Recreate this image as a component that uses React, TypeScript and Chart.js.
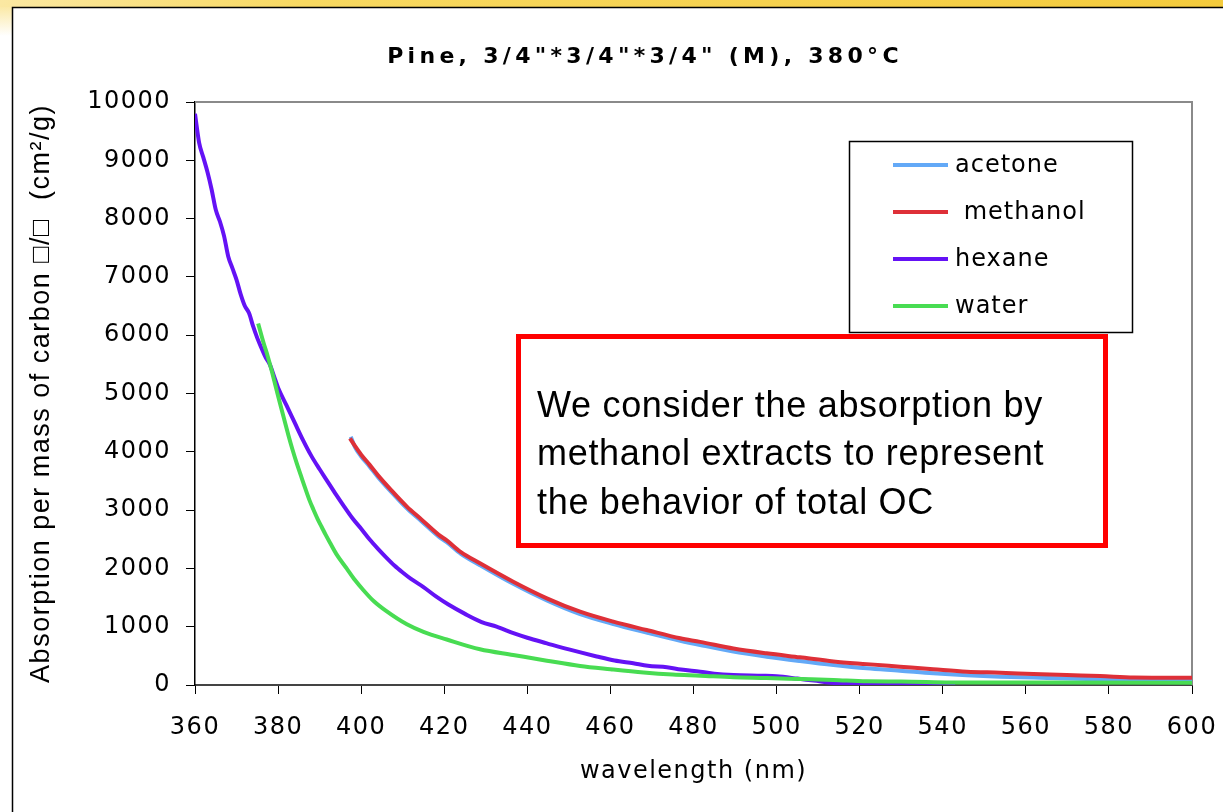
import { useEffect, useRef } from 'react';
import { Chart, registerables } from 'chart.js';

Chart.register(...registerables);

// Absorption per mass of carbon (cm²/g) against wavelength (nm), one pair of arrays per extract.
const acetoneNm = [397.5, 398.5, 400, 402, 404, 407, 411, 414.5, 418.6, 420.6, 424, 428.6, 436.6, 444.7, 452.7, 460.7, 468.7, 476.8, 481.6, 489.6, 497.6, 505.6, 513.7, 521.7, 529.7, 537.7, 545.8, 553.8, 561.8, 570, 580, 590, 600];
const acetoneAbs = [4260, 4080, 3920, 3750, 3570, 3330, 3030, 2810, 2550, 2450, 2250, 2055, 1735, 1450, 1215, 1045, 900, 760, 686, 572, 486, 412, 343, 286, 245, 200, 166, 143, 128, 112, 95, 78, 68];

const methanolNm = [397.3, 398.5, 400, 402, 404, 407, 411, 414.5, 418.6, 420.6, 424, 428.6, 436.6, 444.7, 452.7, 460.7, 468.7, 476.8, 481.6, 489.6, 497.6, 505.6, 513.7, 521.7, 529.7, 537.7, 545.8, 553.8, 561.8, 569.8, 577.9, 586, 600];
const methanolAbs = [4230, 4100, 3950, 3780, 3600, 3360, 3060, 2840, 2580, 2480, 2280, 2088, 1772, 1487, 1257, 1086, 943, 801, 740, 625, 543, 475, 405, 358, 314, 270, 228, 211, 189, 170, 154, 130, 125];

const hexaneNm = [360, 361, 362, 363, 364, 365, 366, 367, 368, 369, 370, 371, 372, 373, 374, 375, 376, 377, 378, 379, 380, 382, 384, 386, 388, 390, 392, 394, 396, 398, 400, 402, 404, 406, 408, 410, 412, 415, 418, 421, 425, 429, 432.6, 437, 440, 444.7, 450, 456.7, 461, 465.5, 469, 473.6, 477, 481.6, 485, 489.6, 496.8, 500, 505, 509, 514.5, 520, 530, 543];
const hexaneAbs = [9800, 9300, 9050, 8800, 8500, 8150, 7950, 7700, 7350, 7150, 6950, 6700, 6500, 6380, 6150, 5950, 5780, 5620, 5500, 5300, 5100, 4800, 4500, 4200, 3930, 3700, 3480, 3260, 3050, 2850, 2680, 2500, 2340, 2190, 2050, 1930, 1820, 1680, 1520, 1380, 1220, 1080, 1000, 880, 810, 715, 610, 490, 420, 372, 330, 304, 265, 228, 195, 172, 160, 150, 110, 75, 30, 15, 8, 4];

const waterNm = [375.2, 376.5, 377.5, 378.5, 379.5, 380.5, 381.5, 382.5, 383.5, 384.5, 385.5, 386.5, 387.5, 388.5, 389.5, 390.5, 391.5, 392.5, 394, 396.5, 398.5, 400.5, 403, 406, 411, 415, 420.6, 428.6, 436.6, 444.7, 452.7, 460, 468, 475, 481.6, 489.6, 497.6, 505.6, 513.7, 521.7, 530, 542, 560, 600];
const waterAbs = [6200, 5870, 5640, 5380, 5100, 4820, 4550, 4280, 4030, 3800, 3590, 3380, 3180, 3010, 2850, 2710, 2570, 2440, 2250, 2000, 1800, 1630, 1440, 1270, 1040, 910, 780, 612, 515, 417, 326, 270, 215, 180, 160, 132, 120, 103, 86, 63, 60, 45, 42, 40];

const seriesNames = ['acetone', ' methanol', 'hexane', 'water'];
const seriesColors = ['#63a9f7', '#de3038', '#6412f5', '#48dc52'];

const chartTitle = 'Pine, 3/4"*3/4"*3/4" (M), 380°C';
const xAxisTitle = 'wavelength (nm)';
const yAxisTitle = 'Absorption per mass of carbon \u25A1/\u25A1  (cm\u00B2/g)';
const noteLines = ['We consider the absorption by', 'methanol extracts to represent', 'the behavior of total OC'];

const toPoints = (nm: number[], abs: number[]) => nm.map((x, i) => ({ x, y: abs[i] }));

const decorPlugin = {
  id: 'decor',
  beforeDraw(chart: any) {
    const ctx = chart.ctx as CanvasRenderingContext2D;
    const w = chart.width;
    const h = chart.height;
    ctx.save();
    ctx.fillStyle = '#ffffff';
    ctx.fillRect(0, 0, w, h);
    // gold band along the top edge
    const band = ctx.createLinearGradient(0, 0, w, 0);
    band.addColorStop(0, '#fbe8a2');
    band.addColorStop(0.25, '#f8d961');
    band.addColorStop(1, '#f4cb3c');
    ctx.fillStyle = band;
    ctx.fillRect(0, 0, w, 7);
    // pale strip fading down the left edge
    const strip = ctx.createLinearGradient(0, 7, 0, 36);
    strip.addColorStop(0, '#fbe9a6');
    strip.addColorStop(1, '#ffffff');
    ctx.fillStyle = strip;
    ctx.fillRect(0, 7, 12, 29);
    // white panel with black outline
    ctx.fillStyle = '#ffffff';
    ctx.fillRect(12, 7, w, h);
    ctx.strokeStyle = '#000000';
    ctx.lineWidth = 1.5;
    ctx.strokeRect(12.5, 7.5, w + 20, h + 20);
    ctx.restore();
    (ctx as any).letterSpacing = '1.5px';
  },
  beforeDatasetsDraw(chart: any) {
    const ctx = chart.ctx as CanvasRenderingContext2D;
    const { top, right, left, bottom } = chart.chartArea;
    ctx.save();
    ctx.strokeStyle = '#8a8a8a';
    ctx.lineWidth = 2;
    ctx.beginPath();
    ctx.moveTo(left, top);
    ctx.lineTo(right, top);
    ctx.lineTo(right, bottom);
    ctx.stroke();
    ctx.restore();
  },
  afterDraw(chart: any) {
    const ctx = chart.ctx as CanvasRenderingContext2D;
    const c = ctx as any;
    ctx.save();
    // title
    c.letterSpacing = '4.3px';
    ctx.fillStyle = '#000';
    ctx.font = "bold 22px 'DejaVu Sans'";
    ctx.textAlign = 'center';
    ctx.textBaseline = 'middle';
    ctx.fillText(chartTitle, 645, 57);

    // legend
    ctx.fillStyle = '#fff';
    ctx.fillRect(849, 141, 283, 191);
    ctx.strokeStyle = '#000';
    ctx.lineWidth = 1.5;
    ctx.strokeRect(849.5, 141.5, 283, 191);
    ctx.font = "24px 'DejaVu Sans'";
    c.letterSpacing = '1px';
    ctx.textAlign = 'left';
    seriesNames.forEach((name, i) => {
      const y = 165 + i * 47;
      ctx.strokeStyle = seriesColors[i];
      ctx.lineWidth = 4;
      ctx.beginPath();
      ctx.moveTo(893, y);
      ctx.lineTo(948, y);
      ctx.stroke();
      ctx.fillStyle = '#000';
      ctx.fillText(name, 955, y + 1);
    });

    // note box
    ctx.strokeStyle = '#ff0000';
    ctx.lineWidth = 5;
    ctx.strokeRect(518.5, 336.5, 587, 209);
    c.letterSpacing = '0.7px';
    ctx.font = "36px 'Liberation Sans'";
    ctx.fillStyle = '#000';
    noteLines.forEach((line, i) => ctx.fillText(line, 537, 407 + i * 48.5));
    ctx.restore();
    c.letterSpacing = '0px';
  },
};

export default function App() {
  const canvasRef = useRef<HTMLCanvasElement | null>(null);

  useEffect(() => {
    const canvas = canvasRef.current;
    if (!canvas) return;
    const tickFont = { family: "'DejaVu Sans'", size: 24 };
    const chart = new Chart(canvas, {
      type: 'line',
      data: {
        datasets: [
          { label: seriesNames[0], data: toPoints(acetoneNm, acetoneAbs), borderColor: seriesColors[0], order: 3 },
          { label: seriesNames[1], data: toPoints(methanolNm, methanolAbs), borderColor: seriesColors[1], order: 2 },
          { label: seriesNames[2], data: toPoints(hexaneNm, hexaneAbs), borderColor: seriesColors[2], order: 1 },
          { label: seriesNames[3], data: toPoints(waterNm, waterAbs), borderColor: seriesColors[3], order: 0 },
        ],
      },
      options: {
        responsive: false,
        animation: false,
        layout: { padding: { top: 102, right: 31, left: 0, bottom: 0 } },
        elements: {
          point: { radius: 0 },
          line: { borderWidth: 4, cubicInterpolationMode: 'monotone', fill: false },
        },
        plugins: { legend: { display: false }, tooltip: { enabled: false }, title: { display: false } },
        scales: {
          x: {
            type: 'linear',
            min: 360,
            max: 600,
            ticks: { stepSize: 20, font: tickFont, color: '#000', padding: 19, maxRotation: 0, autoSkip: false, callback: (v: any) => String(v) },
            grid: { drawOnChartArea: false, tickLength: 9, color: '#000' },
            border: { color: '#444', width: 2 },
            title: { display: true, text: xAxisTitle, color: '#000', font: { family: "'DejaVu Sans'", size: 24 }, padding: { top: 0, bottom: 26 } },
            afterFit: (s: any) => {
              s.height = 127;
              s.paddingLeft = 0;
              s.paddingRight = 0;
            },
          },
          y: {
            min: 0,
            max: 10000,
            ticks: { stepSize: 1000, font: tickFont, color: '#000', padding: 15, callback: (v: any) => String(v) },
            grid: { drawOnChartArea: false, tickLength: 9, color: '#000' },
            border: { color: '#000', width: 1.5 },
            title: { display: true, text: yAxisTitle, color: '#000', font: { family: "'Liberation Sans', 'DejaVu Sans'", size: 27 }, padding: { top: 25, bottom: 0 } },
            afterFit: (s: any) => {
              s.width = 195;
              s.paddingTop = 0;
              s.paddingBottom = 0;
            },
          },
        },
      },
      plugins: [decorPlugin],
    } as any);
    return () => chart.destroy();
  }, []);

  return (
    <div style={{ position: 'fixed', left: 0, top: 0, width: 1223, height: 812 }}>
      <canvas ref={canvasRef} width={1223} height={812} />
    </div>
  );
}
